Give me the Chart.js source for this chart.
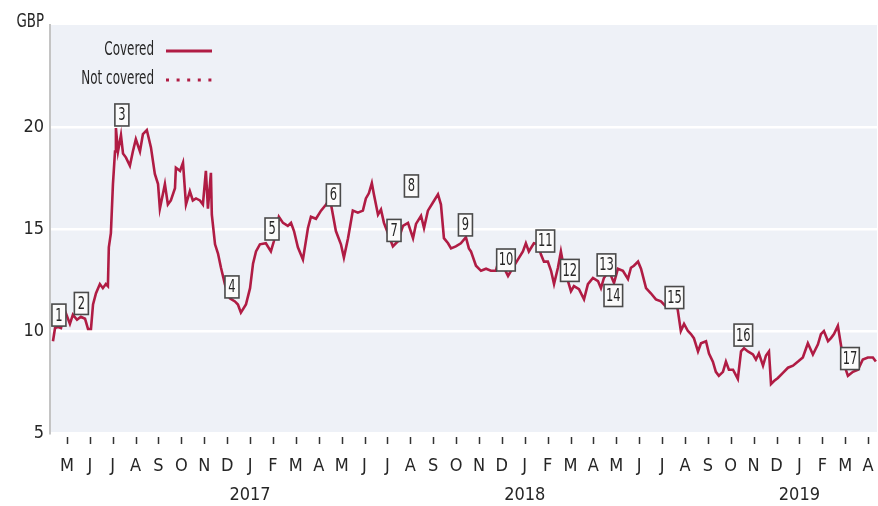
<!DOCTYPE html>
<html>
<head>
<meta charset="utf-8">
<script src="https://cdn.jsdelivr.net/npm/chart.js@4/dist/chart.umd.min.js"></script>
<style>
  html, body { margin: 0; padding: 0; background: #fff; }
  #wrap { width: 878px; height: 506px; }
</style>
</head>
<body>
<div id="wrap"><canvas id="myChart" width="878" height="506"></canvas></div>
<script>
// x = months counted from Jan 2016 (4 = May 2016), y = share price in GBP
const months = [
  3.39, 3.48, 3.61, 3.74, 3.91, 4.13, 4.26, 4.44, 4.61, 4.79, 4.92, 5.05, 5.14, 5.27, 5.44, 5.57,
  5.70, 5.79, 5.83, 5.92, 6.01, 6.10, 6.14, 6.23, 6.36, 6.45, 6.58, 6.75, 6.88, 7.01, 7.19, 7.32,
  7.49, 7.67, 7.84, 7.98, 8.06, 8.19, 8.28, 8.41, 8.54, 8.72, 8.76, 8.94, 9.07, 9.20, 9.37, 9.50,
  9.64, 9.81, 9.94, 10.07, 10.16, 10.29, 10.33, 10.47, 10.60, 10.73, 10.90, 11.12, 11.34, 11.47,
  11.60, 11.82, 12.00, 12.13, 12.26, 12.43, 12.69, 12.91, 13.04, 13.26, 13.44, 13.65, 13.79, 13.92,
  14.09, 14.31, 14.53, 14.66, 14.88, 15.10, 15.32, 15.49, 15.62, 15.75, 15.97, 16.10, 16.28, 16.49,
  16.71, 16.93, 17.06, 17.19, 17.32, 17.41, 17.59, 17.72, 17.85, 18.02, 18.24, 18.46, 18.68, 18.90,
  19.12, 19.25, 19.47, 19.60, 19.77, 19.99, 20.21, 20.34, 20.47, 20.65, 20.78, 20.99, 21.21, 21.43,
  21.56, 21.65, 21.87, 22.09, 22.31, 22.52, 22.74, 22.87, 23.09, 23.27, 23.48, 23.70, 23.92, 24.05,
  24.18, 24.40, 24.58, 24.71, 24.84, 25.01, 25.15, 25.28, 25.45, 25.58, 25.71, 25.89, 26.02, 26.15,
  26.37, 26.59, 26.76, 26.98, 27.20, 27.33, 27.46, 27.68, 27.90, 28.07, 28.29, 28.51, 28.64, 28.77,
  28.95, 29.08, 29.30, 29.51, 29.73, 29.95, 30.17, 30.39, 30.61, 30.69, 30.82, 30.96, 31.13, 31.26,
  31.39, 31.57, 31.70, 31.92, 32.05, 32.22, 32.35, 32.48, 32.66, 32.79, 32.92, 33.10, 33.31, 33.45,
  33.58, 33.75, 33.97, 34.10, 34.23, 34.41, 34.54, 34.67, 34.76, 34.89, 35.06, 35.28, 35.50, 35.72,
  35.94, 36.15, 36.37, 36.59, 36.81, 36.94, 37.07, 37.25, 37.38, 37.51, 37.68, 37.81, 37.94, 38.12,
  38.34, 38.56, 38.77, 38.99, 39.21, 39.34
];
const prices = [
  9.5, 10.15, 10.2, 10.15, 11.0, 10.35, 10.8, 10.55, 10.7, 10.6, 10.1, 10.1, 11.3, 11.85, 12.3, 12.1,
  12.3, 12.2, 14.1, 14.8, 17.2, 18.8, 19.95, 18.8, 19.6, 18.7, 18.5, 18.1, 18.8, 19.4, 18.8, 19.65,
  19.85, 19.0, 17.7, 17.2, 16.0, 16.7, 17.2, 16.2, 16.4, 17.0, 18.0, 17.85, 18.25, 16.2, 16.85, 16.4,
  16.5, 16.4, 16.2, 17.85, 16.0, 17.75, 15.7, 14.25, 13.8, 13.1, 12.3, 11.6, 11.45, 11.3,
  10.9, 11.3, 12.1, 13.3, 13.9, 14.25, 14.3, 13.9, 14.4, 15.6, 15.3, 15.15, 15.3, 14.9,
  14.1, 13.5, 15.05, 15.6, 15.5, 15.9, 16.2, 16.5, 15.7, 14.9, 14.25, 13.6, 14.55, 15.9,
  15.8, 15.9, 16.5, 16.75, 17.25, 16.7, 15.7, 15.95, 15.3, 14.8, 14.15, 14.4, 15.15, 15.3,
  14.55, 15.25, 15.65, 15.05, 15.9, 16.3, 16.7, 16.2, 14.55, 14.3, 14.05, 14.15, 14.3, 14.6,
  14.05, 13.9, 13.2, 12.95, 13.05, 12.95, 12.95, 13.5, 13.1, 12.7, 13.1, 13.5, 13.9, 14.3,
  13.9, 14.3, 14.25, 13.75, 13.4, 13.4, 12.95, 12.3, 13.1, 13.9, 13.1, 12.45, 11.95, 12.2,
  12.05, 11.55, 12.3, 12.6, 12.45, 12.1, 12.6, 12.95, 12.35, 13.05, 12.95, 12.55, 13.1, 13.2,
  13.4, 13.05, 12.1, 11.85, 11.55, 11.45, 11.2, 11.35, 11.45, 11.0, 10.0, 10.35, 10.0, 9.85,
  9.65, 9.0, 9.4, 9.5, 8.9, 8.5, 8.0, 7.8, 8.0, 8.5, 8.1, 8.1, 7.65, 9.0,
  9.15, 9.0, 8.85, 8.6, 8.9, 8.3, 8.8, 9.0, 7.4, 7.55, 7.7, 7.95, 8.2, 8.3,
  8.5, 8.7, 9.4, 8.85, 9.35, 9.85, 10.0, 9.5, 9.65, 9.85, 10.25, 9.35, 8.4, 7.8,
  8.0, 8.1, 8.6, 8.7, 8.7, 8.5
];
const notCoveredPrices = [];

// numbered event markers (box centre positions)
const eventNumbers = [1, 2, 3, 4, 5, 6, 7, 8, 9, 10, 11, 12, 13, 14, 15, 16, 17];
const eventMonths = [3.65, 4.63, 6.40, 11.21, 12.96, 15.64, 18.29, 19.05, 21.41, 23.18, 24.90, 25.97, 27.57, 27.87, 30.54, 33.55, 38.21];
const eventPrices = [10.78, 11.35, 20.59, 12.16, 15.0, 16.67, 14.93, 17.11, 15.2, 13.48, 14.41, 12.97, 13.24, 11.74, 11.64, 9.8, 8.65];

const yTicks = [5, 10, 15, 20];
const monthLetters = ['J', 'F', 'M', 'A', 'M', 'J', 'J', 'A', 'S', 'O', 'N', 'D'];
const firstYear = 2016;
const tickMonths = [];
for (let m = 4; m <= 39; m++) tickMonths.push(m);

const lineColor = '#b01c44';
const textColor = '#262626';
const narrow = '"Liberation Sans Narrow", "DejaVu Sans Condensed", sans-serif';

const plotBackground = {
  id: 'plotBackground',
  beforeDraw(chart) {
    const a = chart.chartArea;
    const ctx = chart.ctx;
    ctx.save();
    ctx.fillStyle = '#eef1f7';
    ctx.fillRect(a.left, a.top, a.right - a.left, a.bottom - a.top);
    ctx.restore();
  }
};

const monthTicks = {
  id: 'monthTicks',
  afterDraw(chart) {
    const x = chart.scales.x;
    const bottom = chart.chartArea.bottom;
    const ctx = chart.ctx;
    ctx.save();
    ctx.strokeStyle = '#333';
    ctx.lineWidth = 1.5;
    tickMonths.forEach(function(m) {
      const px = Math.round(x.getPixelForValue(m)) + 0.5;
      ctx.beginPath();
      ctx.moveTo(px, bottom + 4);
      ctx.lineTo(px, bottom + 11);
      ctx.stroke();
    });
    ctx.restore();
  }
};

// condensed text for the hand-drawn labels
function narrowText(ctx, text, x, y, squeeze) {
  ctx.save();
  ctx.translate(x, y);
  ctx.scale(squeeze, 1);
  ctx.fillText(text, 0, 0);
  ctx.restore();
}

const eventBoxes = {
  id: 'eventBoxes',
  afterDatasetsDraw(chart) {
    const xs = chart.scales.x, ys = chart.scales.y;
    const ctx = chart.ctx;
    ctx.save();
    ctx.font = '17px ' + narrow;
    ctx.textAlign = 'center';
    ctx.textBaseline = 'middle';
    eventNumbers.forEach(function(n, i) {
      const cx = xs.getPixelForValue(eventMonths[i]);
      const cy = ys.getPixelForValue(eventPrices[i]);
      const label = String(n);
      const w = Math.max(14, ctx.measureText(label).width * 0.75 + 4);
      const h = 22;
      ctx.fillStyle = '#fbfbfb';
      ctx.fillRect(cx - w / 2, cy - h / 2, w, h);
      ctx.strokeStyle = '#4a4a4a';
      ctx.lineWidth = 1.6;
      ctx.strokeRect(cx - w / 2, cy - h / 2, w, h);
      ctx.fillStyle = textColor;
      narrowText(ctx, label, cx, cy + 1, 0.75);
    });
    ctx.restore();
  }
};

const unitAndLegend = {
  id: 'unitAndLegend',
  afterDraw(chart) {
    const a = chart.chartArea;
    const ctx = chart.ctx;
    ctx.save();
    ctx.fillStyle = textColor;
    ctx.font = '19px ' + narrow;
    ctx.textAlign = 'right';
    ctx.textBaseline = 'middle';
    narrowText(ctx, 'GBP', a.left - 6, 22, 0.78);

    ctx.font = '19px ' + narrow;
    const textRight = a.left + 104;
    const lineStart = a.left + 116;
    const lineEnd = a.left + 162;
    chart.data.datasets.forEach(function(ds, i) {
      const y = 50 + i * 29;
      ctx.fillStyle = textColor;
      narrowText(ctx, ds.label, textRight, y, 0.7);
      ctx.strokeStyle = ds.borderColor;
      ctx.lineWidth = 3;
      ctx.setLineDash(ds.borderDash || []);
      ctx.beginPath();
      ctx.moveTo(lineStart, y + 1);
      ctx.lineTo(lineEnd, y + 1);
      ctx.stroke();
    });
    ctx.restore();
  }
};

new Chart(document.getElementById('myChart'), {
  type: 'line',
  data: {
    datasets: [{
      label: 'Covered',
      data: months.map(function(m, i) { return { x: m, y: prices[i] }; }),
      borderColor: lineColor,
      borderWidth: 2.6,
      pointRadius: 0,
      tension: 0
    }, {
      label: 'Not covered',
      data: notCoveredPrices,
      borderColor: lineColor,
      borderWidth: 2.6,
      borderDash: [3, 7.6],
      pointRadius: 0
    }]
  },
  options: {
    responsive: false,
    animation: false,
    devicePixelRatio: 1,
    layout: { padding: { top: 25, right: 1, left: 0, bottom: 0 } },
    plugins: {
      legend: { display: false },
      tooltip: { enabled: false }
    },
    scales: {
      x: {
        type: 'linear',
        min: 3.26,
        max: 39.39,
        afterBuildTicks: function(scale) {
          scale.ticks = tickMonths.map(function(m) { return { value: m }; });
        },
        afterFit: function(scale) {
          scale.height = 73;
          scale.paddingLeft = 0;
          scale.paddingRight = 0;
        },
        grid: { display: false, drawTicks: false },
        border: { display: false },
        ticks: {
          autoSkip: false,
          maxRotation: 0,
          padding: 19,
          color: textColor,
          font: { family: narrow, size: 18, lineHeight: 1.6 },
          callback: function(value) {
            const letter = monthLetters[value % 12];
            if (value % 12 === 0) return [letter, String(firstYear + value / 12)];
            return letter;
          }
        }
      },
      y: {
        min: 5,
        max: 25,
        afterBuildTicks: function(scale) {
          scale.ticks = yTicks.map(function(v) { return { value: v }; });
        },
        afterFit: function(scale) {
          scale.width = 50;
          scale.paddingTop = 0;
          scale.paddingBottom = 0;
        },
        grid: { color: '#ffffff', lineWidth: 2.5, drawTicks: false },
        border: { display: true, color: '#c4c4c4', width: 2 },
        ticks: {
          padding: 6,
          color: textColor,
          font: { family: narrow, size: 18 }
        }
      }
    }
  },
  plugins: [plotBackground, monthTicks, eventBoxes, unitAndLegend]
});
</script>
</body>
</html>
